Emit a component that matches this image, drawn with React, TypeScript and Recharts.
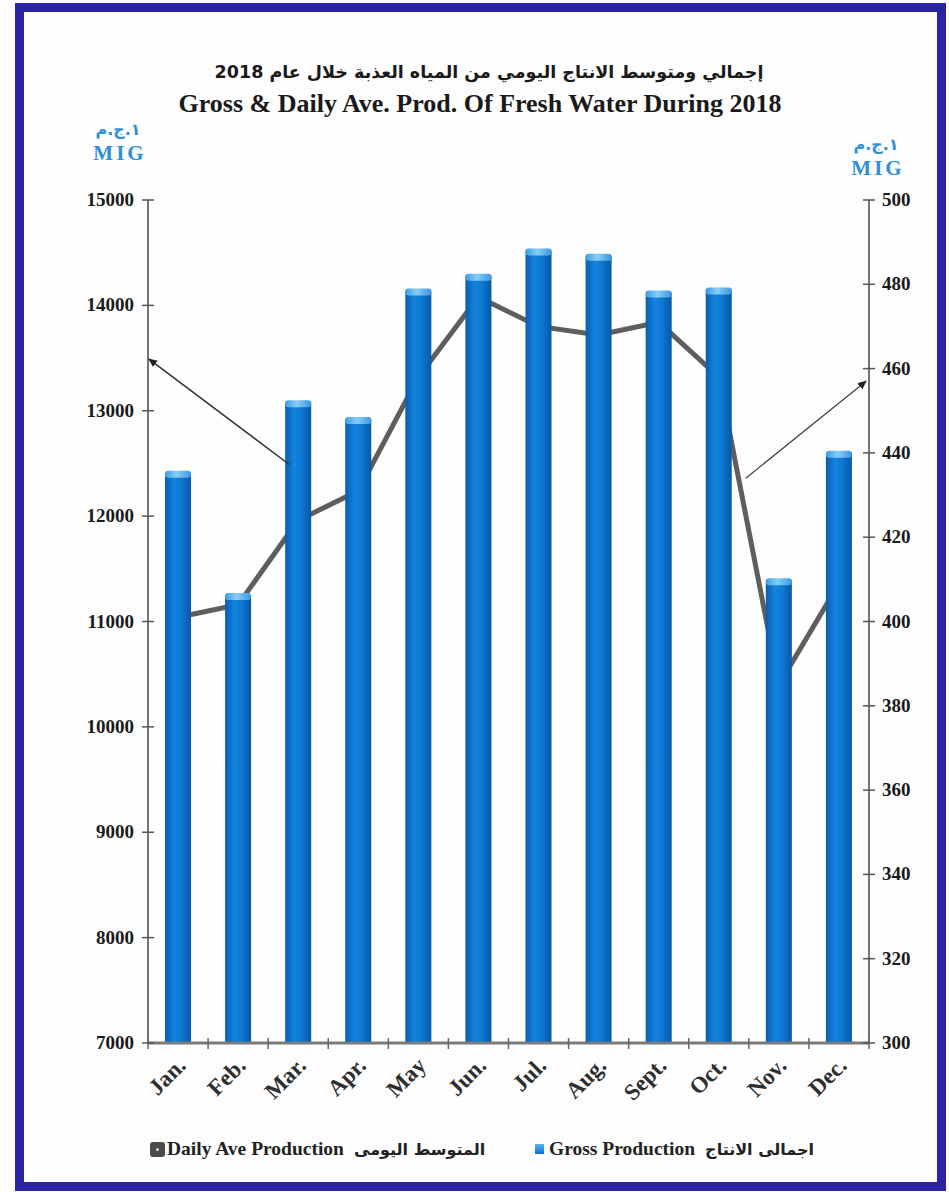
import React from 'react';
import { ComposedChart, Bar, Line, XAxis, YAxis } from 'recharts';

const months = ['Jan.', 'Feb.', 'Mar.', 'Apr.', 'May', 'Jun.', 'Jul.', 'Aug.', 'Sept.', 'Oct.', 'Nov.', 'Dec.'];
const grossProduction = [12430, 11270, 13100, 12940, 14160, 14300, 14540, 14490, 14140, 14170, 11410, 12620];
const dailyAverage = [401, 404, 424, 431, 458, 477, 470, 468, 471, 458, 385, 409];
const leftTicks = [7000, 8000, 9000, 10000, 11000, 12000, 13000, 14000, 15000];
const rightTicks = [300, 320, 340, 360, 380, 400, 420, 440, 460, 480, 500];

const W = 949;
const H = 1192;
const PLOT_LEFT = 148;
const PLOT_RIGHT = 869;
const PLOT_TOP = 200;
const PLOT_BOTTOM = 1043;
const BAND = (PLOT_RIGHT - PLOT_LEFT) / months.length;

const SERIF = '"Liberation Serif", "Times New Roman", "DejaVu Serif", serif';
const ARABIC = '"DejaVu Sans", "Noto Sans", sans-serif';

const data = months.map((m, i) => ({
  month: m,
  gross: grossProduction[i],
  daily: dailyAverage[i],
}));

// helpers for the two annotation arrows only
const leftY = (v: number) =>
  PLOT_TOP + ((leftTicks[leftTicks.length - 1] - v) / (leftTicks[leftTicks.length - 1] - leftTicks[0])) * (PLOT_BOTTOM - PLOT_TOP);
const rightY = (v: number) =>
  PLOT_TOP + ((rightTicks[rightTicks.length - 1] - v) / (rightTicks[rightTicks.length - 1] - rightTicks[0])) * (PLOT_BOTTOM - PLOT_TOP);
const catX = (m: string) => PLOT_LEFT + (months.indexOf(m) + 0.5) * BAND;

const CylinderBar = (props: any) => {
  const { x, y, width, height } = props;
  if (!height || height <= 0) return null;
  return (
    <g>
      <rect x={x} y={y + 2} width={width} height={height - 2} fill="url(#barGrad)" />
      <rect x={x} y={y} width={width} height={7} rx={3} fill="url(#capGrad)" />
    </g>
  );
};

const LeftTick = (props: any) => {
  const { x, y, payload } = props;
  return (
    <g>
      <line x1={x - 6} x2={x + 6} y1={y} y2={y} stroke="#555" strokeWidth={1.5} />
      <text x={x - 14} y={y} dy={6} textAnchor="end" fontFamily={SERIF} fontWeight="bold" fontSize={19} fill="#1a1a1a">
        {payload.value}
      </text>
    </g>
  );
};

const RightTick = (props: any) => {
  const { x, y, payload } = props;
  return (
    <g>
      <line x1={x - 6} x2={x + 6} y1={y} y2={y} stroke="#555" strokeWidth={1.5} />
      <text x={x + 13} y={y} dy={6} textAnchor="start" fontFamily={SERIF} fontWeight="bold" fontSize={19} fill="#1a1a1a">
        {payload.value}
      </text>
    </g>
  );
};

const MonthTick = (props: any) => {
  const { x, y, payload, index } = props;
  const bx = x - BAND / 2;
  const ax = x + 9;
  const ay = y + 24;
  return (
    <g>
      <line x1={bx} x2={bx} y1={y - 5} y2={y + 6} stroke="#666" strokeWidth={1.5} />
      {index === months.length - 1 && (
        <line x1={x + BAND / 2} x2={x + BAND / 2} y1={y - 5} y2={y + 6} stroke="#666" strokeWidth={1.5} />
      )}
      <text
        x={ax}
        y={ay}
        textAnchor="end"
        transform={`rotate(-45 ${ax} ${ay})`}
        fontFamily={SERIF}
        fontWeight="bold"
        fontSize={23}
        fill="#2e2e2e"
      >
        {payload.value}
      </text>
    </g>
  );
};

const UnitLabel = ({ left, top }: { left: number; top: number }) => (
  <div style={{ position: 'absolute', left, top, width: 80, textAlign: 'center', color: '#2f8fd8', fontWeight: 'bold' }}>
    <div style={{ fontFamily: ARABIC, fontSize: 16, letterSpacing: 2, direction: 'ltr', unicodeBidi: 'bidi-override', lineHeight: '22px' }}>
      م.ج.١
    </div>
    <div style={{ fontFamily: SERIF, fontSize: 21, letterSpacing: 3, lineHeight: '24px', paddingLeft: 4 }}>MIG</div>
  </div>
);

export default function App() {
  const leftArrow = { x1: catX('Mar.') - 9, y1: leftY(12490), x2: PLOT_LEFT + 1, y2: leftY(13490) };
  const rightArrow = { x1: catX('Oct.') + 27, y1: rightY(434), x2: PLOT_RIGHT - 3, y2: rightY(457) };

  return (
    <div style={{ position: 'absolute', left: 0, top: 0, width: W, height: H, background: '#fdfdfd', overflow: 'hidden' }}>
      <svg width={0} height={0} style={{ position: 'absolute' }}>
        <defs>
          <linearGradient id="barGrad" x1="0" y1="0" x2="1" y2="0">
            <stop offset="0%" stopColor="#0a5cad" />
            <stop offset="35%" stopColor="#1383de" />
            <stop offset="60%" stopColor="#0e7ad4" />
            <stop offset="100%" stopColor="#0758a8" />
          </linearGradient>
          <linearGradient id="capGrad" x1="0" y1="0" x2="1" y2="0">
            <stop offset="0%" stopColor="#3d9de4" />
            <stop offset="45%" stopColor="#86cdf7" />
            <stop offset="100%" stopColor="#3a97e0" />
          </linearGradient>
        </defs>
      </svg>

      <div
        style={{
          position: 'absolute',
          left: 15,
          top: 3,
          width: 931,
          height: 1188,
          boxSizing: 'border-box',
          border: '9px solid #2b22a6',
        }}
      />

      <div style={{ position: 'absolute', left: 0, top: 62, width: 978, textAlign: 'center', fontFamily: ARABIC, fontWeight: 'bold', fontSize: 17.5, color: '#1a1a1a', direction: 'rtl' }}>
        إجمالي ومتوسط الانتاج اليومي من المياه العذبة خلال عام 2018
      </div>
      <div style={{ position: 'absolute', left: 0, top: 89, width: 960, textAlign: 'center', fontFamily: SERIF, fontWeight: 'bold', fontSize: 26, color: '#1a1a1a' }}>
        Gross &amp; Daily Ave. Prod. Of Fresh Water During 2018
      </div>

      <UnitLabel left={78} top={119} />
      <UnitLabel left={836} top={134} />

      <div style={{ position: 'absolute', left: 0, top: 0 }}>
        <ComposedChart width={W} height={H} data={data} margin={{ top: PLOT_TOP, right: 0, bottom: 0, left: 0 }}>
          <XAxis
            dataKey="month"
            height={H - PLOT_BOTTOM}
            tickSize={0}
            tickMargin={0}
            interval={0}
            tick={<MonthTick />}
            tickLine={false}
            axisLine={{ stroke: '#7a7a7a', strokeWidth: 3 }}
          />
          <YAxis
            yAxisId="left"
            orientation="left"
            width={PLOT_LEFT}
            domain={[leftTicks[0], leftTicks[leftTicks.length - 1]]}
            ticks={leftTicks}
            interval={0}
            tickSize={0}
            tickMargin={0}
            tickLine={false}
            tick={<LeftTick />}
            axisLine={{ stroke: '#444', strokeWidth: 1.5 }}
          />
          <YAxis
            yAxisId="right"
            orientation="right"
            width={W - PLOT_RIGHT}
            domain={[rightTicks[0], rightTicks[rightTicks.length - 1]]}
            ticks={rightTicks}
            interval={0}
            tickSize={0}
            tickMargin={0}
            tickLine={false}
            tick={<RightTick />}
            axisLine={{ stroke: '#444', strokeWidth: 1.5 }}
          />
          <Line
            yAxisId="right"
            dataKey="daily"
            type="linear"
            stroke="#5e5e5e"
            strokeWidth={5}
            dot={false}
            activeDot={false}
            isAnimationActive={false}
            zIndex={200}
          />
          <Bar
            yAxisId="left"
            dataKey="gross"
            barSize={26}
            shape={<CylinderBar />}
            isAnimationActive={false}
            zIndex={300}
          />
        </ComposedChart>
      </div>

      <svg width={W} height={H} style={{ position: 'absolute', left: 0, top: 0, pointerEvents: 'none' }}>
        <defs>
          <marker id="arrowHead" markerWidth="10" markerHeight="10" refX="8" refY="5" orient="auto" markerUnits="userSpaceOnUse">
            <path d="M0,1 L9,5 L0,9 Z" fill="#222" />
          </marker>
        </defs>
        <line {...leftArrow} stroke="#333" strokeWidth={1.5} markerEnd="url(#arrowHead)" />
        <line {...rightArrow} stroke="#444" strokeWidth={1.3} markerEnd="url(#arrowHead)" />
      </svg>

      <div style={{ position: 'absolute', left: 150, top: 1138, fontFamily: SERIF, fontWeight: 'bold', fontSize: 19.5, color: '#222', display: 'flex', alignItems: 'center', whiteSpace: 'nowrap' }}>
        <span style={{ display: 'inline-flex', alignItems: 'center', justifyContent: 'center', width: 15, height: 15, background: '#4a4a4a', borderRadius: 3, marginRight: 2 }}>
          <span style={{ width: 3, height: 3, background: '#ddd', borderRadius: 2 }} />
        </span>
        <span>Daily Ave Production</span>
        <span style={{ fontFamily: ARABIC, fontSize: 16, marginLeft: 10 }}>المتوسط اليومى</span>
      </div>
      <div style={{ position: 'absolute', left: 535, top: 1138, fontFamily: SERIF, fontWeight: 'bold', fontSize: 19.5, color: '#222', display: 'flex', alignItems: 'center', whiteSpace: 'nowrap' }}>
        <span style={{ display: 'inline-block', width: 9, height: 10, background: 'linear-gradient(#5fb3ef, #0b6fcb)', marginRight: 5 }} />
        <span>Gross Production</span>
        <span style={{ fontFamily: ARABIC, fontSize: 16, marginLeft: 10 }}>اجمالى الانتاج</span>
      </div>
    </div>
  );
}
